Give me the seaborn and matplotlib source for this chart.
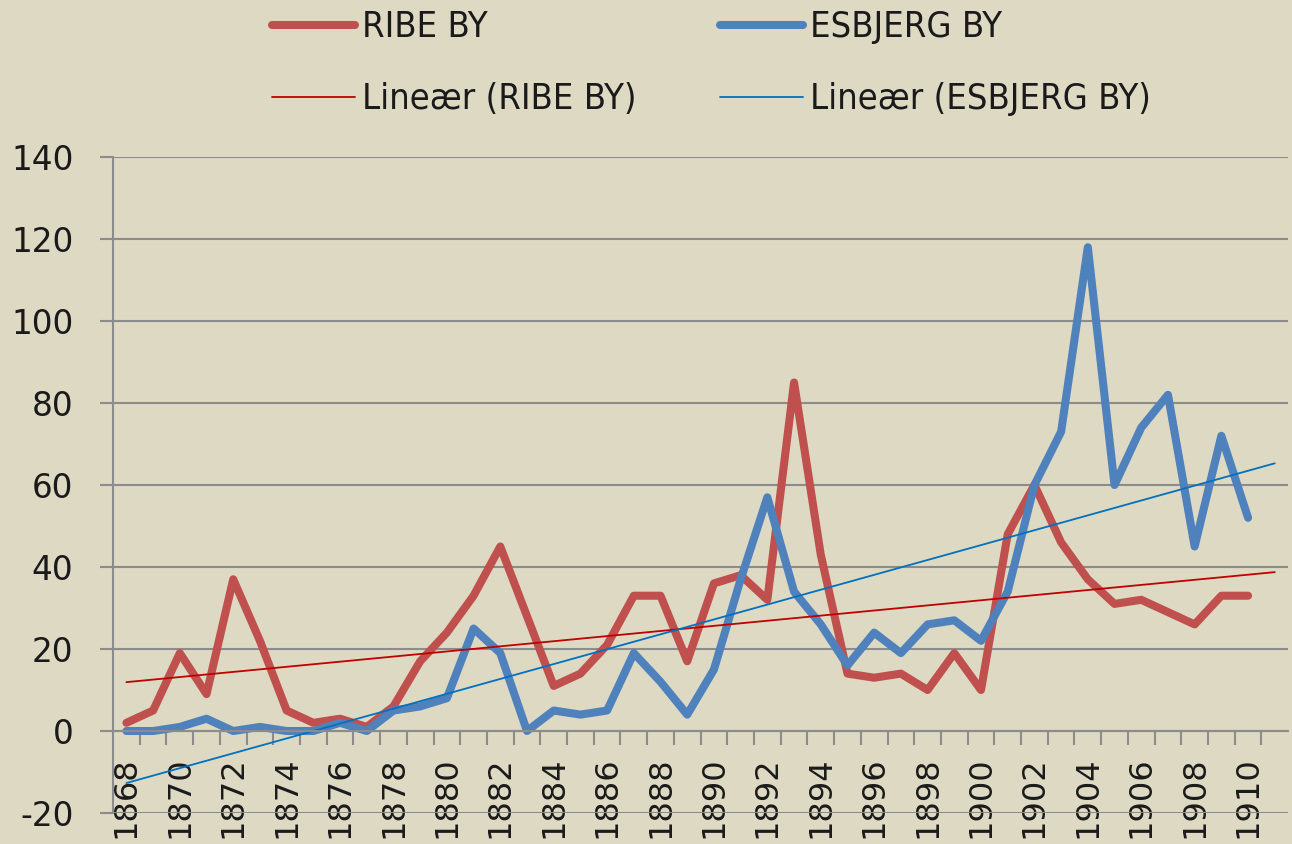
import numpy as np
import pandas as pd
import matplotlib.pyplot as plt
from matplotlib.lines import Line2D
from matplotlib.font_manager import FontProperties
import seaborn as sns

# ---- data ----
years = list(range(1868, 1911))
ribe = [2, 5, 19, 9, 37, 22, 5, 2, 3, 1, 6, 17, 24, 33, 45,
        28, 11, 14, 21, 33, 33, 17, 36, 38, 32, 85, 43, 14, 13,
        14, 10, 19, 10, 48, 60, 46, 37, 31, 32, 29, 26, 33, 33]
esbjerg = [0, 0, 1, 3, 0, 1, 0, 0, 2, 0, 5, 6, 8, 25, 19,
           0, 5, 4, 5, 19, 12, 4, 15, 37, 57, 34, 26, 16, 24,
           19, 26, 27, 22, 34, 60, 73, 118, 60, 74, 82, 45, 72, 52]
trend_years = list(range(1868, 1912))  # the category axis runs one year past the data
series_names = ["RIBE BY", "ESBJERG BY"]
trend_names = ["Lineær (RIBE BY)", "Lineær (ESBJERG BY)"]

bg = "#DDD9C3"
grid_col = "#8C8C8C"
colors = {"RIBE BY": "#C0504D", "ESBJERG BY": "#4F81BD"}
trend_colors = {"Lineær (RIBE BY)": "#C00000", "Lineær (ESBJERG BY)": "#0070C0"}

sns.set_theme(style="white", rc={"axes.facecolor": bg, "figure.facecolor": bg})
plt.rcParams["font.family"] = ["DejaVu Sans"]
plt.rcParams["text.color"] = "#1a1a1a"
plt.rcParams["axes.unicode_minus"] = False

df = pd.DataFrame({
    "year": years * 2,
    "value": ribe + esbjerg,
    "town": [series_names[0]] * len(years) + [series_names[1]] * len(years),
})

# linear trend lines, like Excel's "Lineær" trendline
trend_rows = []
for name, tname in zip(series_names, trend_names):
    vals = ribe if name == "RIBE BY" else esbjerg
    k, m = np.polyfit(years, vals, 1)
    for yr in trend_years:
        trend_rows.append({"year": yr, "value": k * yr + m, "town": tname})
trend_df = pd.DataFrame(trend_rows)

fig = plt.figure(figsize=(12.92, 8.44), dpi=100)
ax = fig.add_axes([0.0875, 0.0367, 0.9095, 0.7773])

sns.lineplot(data=df, x="year", y="value", hue="town", hue_order=series_names,
             palette=colors, linewidth=5.8, ax=ax, legend=False)
for ln in ax.lines:
    ln.set_solid_joinstyle("round")
    ln.set_solid_capstyle("round")
sns.lineplot(data=trend_df, x="year", y="value", hue="town", hue_order=trend_names,
             palette=trend_colors, linewidth=1.3, ax=ax, legend=False)

# axes
ax.set_xlim(1867.5, 1911.5)
ax.set_ylim(-20, 140)
ax.set_yticks(range(-20, 141, 20))
ax.set_xticks(years[::2])
ax.set_xticklabels([str(y) for y in years[::2]])
ax.set_xticks(np.arange(1868.5, 1911, 1), minor=True)
ax.set_xlabel("")
ax.set_ylabel("")

ax.yaxis.grid(True, color=grid_col, linewidth=1.5)
ax.set_axisbelow(True)
for side in ["top", "right"]:
    ax.spines[side].set_visible(False)
for side in ["left", "bottom"]:
    ax.spines[side].set_color(grid_col)
    ax.spines[side].set_linewidth(1.5)
ax.spines["bottom"].set_position(("data", 0))

ax.tick_params(axis="x", which="major", length=0, pad=18, labelrotation=90,
               labelsize=23, labelcolor="#1a1a1a")
ax.tick_params(axis="x", which="minor", bottom=True, length=10, width=1.5,
               color=grid_col, direction="out")
ax.tick_params(axis="y", left=True, length=9.5, width=1.5, color=grid_col,
               pad=19, labelsize=23.5, labelcolor="#1a1a1a")

# legend above the plot
handles = [
    Line2D([], [], color=colors["RIBE BY"], lw=5.8, solid_capstyle="round"),
    Line2D([], [], color=trend_colors["Lineær (RIBE BY)"], lw=1.3),
    Line2D([], [], color=colors["ESBJERG BY"], lw=5.8, solid_capstyle="round"),
    Line2D([], [], color=trend_colors["Lineær (ESBJERG BY)"], lw=1.3),
]
labels = [series_names[0], trend_names[0], series_names[1], trend_names[1]]
leg_font = FontProperties(family=["DejaVu Sans"], stretch="condensed", size=26)
fig.legend(handles, labels, ncol=2, loc="center left",
           bbox_to_anchor=(272 / 1292, 0.925), borderpad=0, borderaxespad=0,
           frameon=False, prop=leg_font, handlelength=2.3, handletextpad=0.2,
           columnspacing=2.3, labelspacing=1.05)

plt.savefig("out.png", dpi=100, facecolor=bg)
